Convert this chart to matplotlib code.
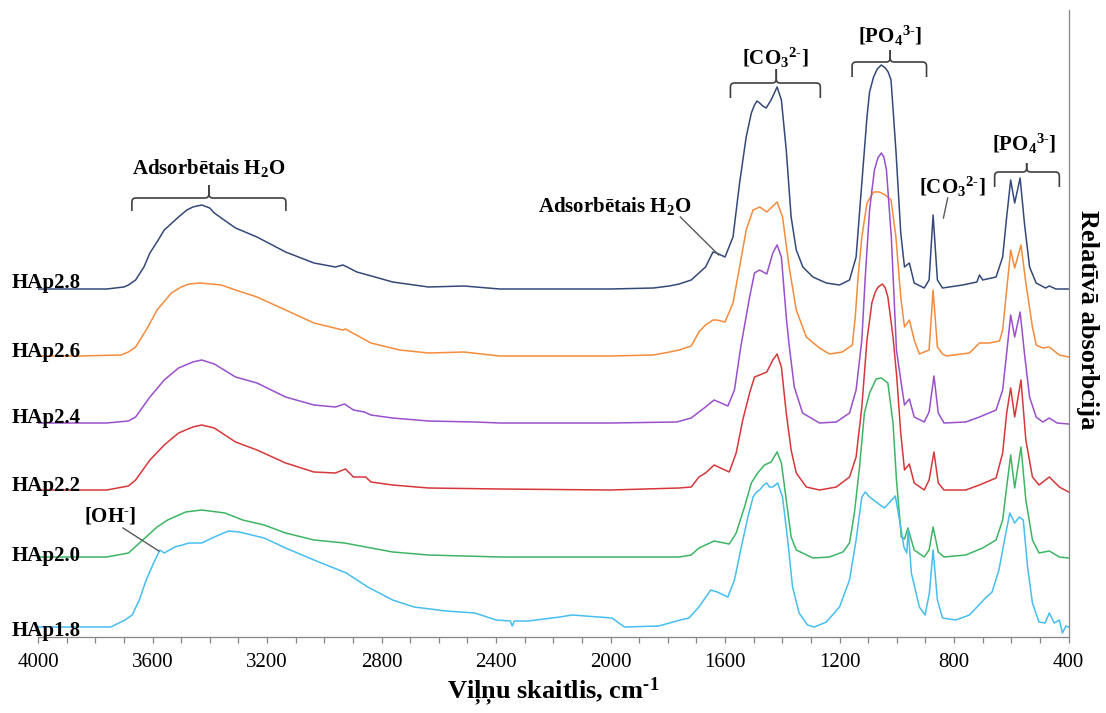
import matplotlib
matplotlib.use("Agg")
import matplotlib.pyplot as plt
import matplotlib.transforms as mtransforms
from matplotlib.path import Path
from matplotlib.patches import PathPatch
from matplotlib.ticker import MultipleLocator

plt.rcParams["font.family"] = ["Liberation Serif", "DejaVu Serif"]
plt.rcParams["mathtext.fontset"] = "custom"
plt.rcParams["mathtext.rm"] = "Liberation Serif:bold"
plt.rcParams["mathtext.it"] = "Liberation Serif:bold"
plt.rcParams["mathtext.bf"] = "Liberation Serif:bold"

# sample names, top to bottom
samples = ["HAp2.8", "HAp2.6", "HAp2.4", "HAp2.2", "HAp2.0", "HAp1.8"]
colors = ["#34497A", "#F58B3C", "#9A4FCB", "#D7373A", "#3DB564", "#45BEF0"]

# stacked spectra: (wavenumber cm-1, relative absorbance)
hap28 = [(4000, 348), (3850, 348), (3760, 348), (3700, 350), (3684, 352), (3659, 357),
         (3630, 370), (3609, 384), (3580, 397), (3559, 407), (3509, 420), (3480, 427),
         (3459, 430), (3428, 432), (3400, 429), (3384, 424), (3340, 415), (3310, 409),
         (3235, 400), (3135, 385), (3036, 374), (2961, 370), (2935, 372), (2920, 370),
         (2886, 365), (2848, 362), (2761, 355), (2636, 350), (2512, 351), (2387, 348),
         (2200, 348), (2000, 348), (1850, 349), (1795, 351), (1760, 353), (1718, 357),
         (1668, 370), (1642, 385), (1629, 384), (1600, 380), (1572, 400), (1549, 454),
         (1526, 500), (1508, 524), (1497, 532), (1488, 536), (1479, 534), (1468, 531),
         (1456, 529), (1439, 537), (1418, 550), (1403, 537), (1386, 487), (1369, 420),
         (1351, 387), (1328, 370), (1293, 360), (1246, 354), (1200, 352), (1165, 357),
         (1142, 380), (1122, 454), (1104, 520), (1095, 545), (1081, 560), (1068, 568),
         (1054, 572), (1040, 569), (1030, 565), (1020, 557), (1003, 487), (986, 404),
         (973, 370), (956, 374), (939, 354), (904, 349), (887, 357), (873, 422),
         (858, 357), (840, 349), (770, 352), (720, 355), (711, 362), (700, 357),
         (653, 360), (630, 380), (616, 420), (602, 457), (588, 434), (569, 459),
         (554, 414), (536, 370), (513, 354), (480, 349), (467, 351), (444, 348),
         (400, 348)]

hap26 = [(4000, 281), (3858, 281), (3710, 282), (3684, 285), (3659, 290), (3620, 308),
         (3584, 327), (3534, 344), (3500, 350), (3472, 353), (3434, 354), (3360, 352),
         (3310, 347), (3235, 340), (3135, 327), (3036, 314), (2935, 307), (2926, 308),
         (2837, 294), (2736, 287), (2636, 284), (2512, 285), (2387, 281), (2000, 281),
         (1850, 282), (1793, 285), (1760, 287), (1718, 291), (1691, 305), (1668, 312),
         (1642, 317), (1629, 317), (1600, 315), (1572, 334), (1549, 370), (1526, 407),
         (1502, 427), (1479, 430), (1454, 425), (1418, 435), (1399, 420), (1376, 370),
         (1351, 327), (1316, 300), (1270, 289), (1235, 283), (1190, 285), (1155, 292),
         (1145, 320), (1135, 360), (1122, 400), (1104, 434), (1081, 445), (1060, 445),
         (1040, 442), (1020, 437), (1003, 400), (986, 340), (973, 310), (956, 317),
         (939, 297), (921, 283), (887, 287), (873, 347), (858, 290), (840, 283),
         (827, 281), (746, 284), (711, 294), (676, 294), (641, 296), (630, 307),
         (616, 347), (602, 387), (588, 369), (566, 392), (549, 354), (526, 310),
         (513, 292), (490, 289), (467, 290), (432, 282), (400, 280)]

hap24 = [(4000, 214), (3760, 214), (3684, 216), (3659, 220), (3609, 240), (3559, 257),
         (3509, 269), (3459, 275), (3428, 277), (3384, 273), (3310, 260), (3235, 254),
         (3135, 240), (3036, 232), (2961, 230), (2929, 233), (2898, 227), (2860, 225),
         (2837, 222), (2761, 219), (2636, 216), (2474, 215), (2387, 214), (2000, 214),
         (1769, 215), (1718, 219), (1691, 225), (1668, 230), (1638, 237), (1590, 231),
         (1567, 247), (1545, 290), (1514, 340), (1497, 364), (1479, 367), (1454, 363),
         (1433, 384), (1418, 392), (1403, 380), (1386, 320), (1376, 292), (1358, 250),
         (1329, 224), (1270, 214), (1211, 215), (1165, 224), (1142, 247), (1122, 297),
         (1110, 360), (1095, 427), (1078, 467), (1066, 479), (1054, 484), (1045, 480),
         (1036, 467), (1019, 400), (1001, 287), (986, 257), (973, 232), (956, 238),
         (939, 220), (904, 215), (887, 225), (870, 261), (855, 224), (835, 214),
         (759, 215), (711, 220), (653, 227), (630, 247), (616, 284), (602, 322),
         (588, 300), (569, 325), (554, 284), (536, 240), (513, 220), (490, 215),
         (467, 219), (440, 214), (400, 213)]

hap22 = [(4000, 147), (3760, 147), (3684, 151), (3659, 157), (3609, 177), (3559, 192),
         (3509, 204), (3459, 210), (3428, 212), (3384, 209), (3310, 195), (3235, 187),
         (3135, 174), (3036, 165), (2961, 164), (2926, 168), (2898, 160), (2855, 160),
         (2837, 155), (2761, 152), (2636, 149), (2387, 148), (2000, 147), (1760, 149),
         (1718, 150), (1691, 160), (1668, 164), (1638, 172), (1585, 165), (1561, 184),
         (1538, 217), (1514, 244), (1497, 260), (1479, 262), (1454, 265), (1433, 277),
         (1418, 283), (1403, 270), (1386, 224), (1369, 187), (1351, 164), (1316, 150),
         (1270, 147), (1211, 150), (1165, 160), (1142, 180), (1122, 230), (1104, 297),
         (1087, 334), (1075, 345), (1065, 350), (1050, 353), (1040, 349), (1031, 340),
         (1013, 300), (1000, 260), (986, 204), (973, 167), (956, 173), (939, 154),
         (904, 147), (887, 157), (870, 185), (855, 154), (835, 147), (759, 147),
         (711, 152), (653, 159), (630, 184), (616, 224), (602, 249), (588, 220),
         (566, 257), (549, 197), (526, 160), (503, 152), (467, 160), (432, 150),
         (400, 145)]

hap20 = [(4000, 80), (3760, 80), (3684, 84), (3634, 97), (3584, 110), (3547, 117),
         (3484, 125), (3428, 127), (3347, 124), (3285, 117), (3210, 112), (3135, 104),
         (3036, 97), (2929, 94), (2837, 89), (2761, 85), (2636, 82), (2387, 80),
         (2000, 80), (1760, 80), (1718, 82), (1691, 89), (1668, 92), (1638, 96),
         (1585, 93), (1561, 104), (1532, 130), (1508, 154), (1486, 164), (1462, 172),
         (1439, 175), (1418, 185), (1403, 174), (1386, 137), (1369, 100), (1351, 87),
         (1293, 79), (1235, 80), (1188, 85), (1165, 94), (1148, 124), (1130, 170),
         (1113, 224), (1095, 244), (1072, 258), (1054, 259), (1031, 254), (1013, 214),
         (1001, 157), (984, 100), (973, 98), (961, 109), (939, 87), (904, 80),
         (887, 87), (873, 110), (855, 85), (835, 80), (759, 82), (700, 89),
         (653, 97), (630, 117), (616, 150), (602, 182), (588, 149), (566, 190),
         (549, 137), (526, 97), (503, 84), (467, 86), (432, 80), (400, 79)]

hap18 = [(4000, 10), (3822, 10), (3746, 10), (3696, 17), (3671, 22), (3646, 37),
         (3622, 57), (3596, 74), (3574, 87), (3559, 84), (3522, 90), (3472, 94),
         (3428, 94), (3384, 100), (3335, 106), (3297, 105), (3210, 99), (3135, 89),
         (3036, 77), (2923, 64), (2848, 50), (2761, 37), (2686, 30), (2574, 26),
         (2474, 24), (2399, 17), (2350, 16), (2343, 11), (2336, 16), (2287, 16),
         (2177, 20), (2134, 22), (1995, 19), (1951, 10), (1832, 11), (1756, 17),
         (1726, 19), (1691, 30), (1650, 47), (1627, 45), (1590, 40), (1567, 57),
         (1543, 90), (1520, 120), (1502, 140), (1490, 145), (1479, 147), (1465, 152),
         (1454, 154), (1445, 150), (1433, 150), (1416, 154), (1399, 140), (1381, 97),
         (1364, 50), (1341, 24), (1312, 12), (1288, 10), (1246, 15), (1200, 30),
         (1165, 57), (1142, 97), (1122, 140), (1110, 145), (1095, 140), (1058, 132),
         (1043, 129), (1005, 141), (986, 110), (975, 90), (965, 84), (960, 107),
         (949, 64), (921, 30), (901, 22), (886, 44), (873, 87), (858, 37),
         (840, 19), (794, 17), (746, 22), (690, 39), (667, 45), (643, 67),
         (619, 104), (605, 124), (588, 114), (572, 120), (558, 117), (543, 70),
         (526, 34), (503, 15), (482, 14), (467, 24), (450, 14), (432, 17),
         (421, 4), (409, 11), (400, 10)]

spectra = [hap28, hap26, hap24, hap22, hap20, hap18]

# where each sample name sits (text baseline, same units as the spectra)
label_y = [349, 280, 214, 146, 76, 1]

fig = plt.figure(figsize=(11.06, 7.13), dpi=100)
ax = fig.add_axes([38 / 1106, 76 / 713, 1030.5 / 1106, 627 / 713])

for spec, col in zip(spectra, colors):
    wn, ab = zip(*spec)
    ax.plot(wn, ab, color=col, lw=1.1)

ax.set_xlim(4000, 400)
ax.set_ylim(0, 627)
ax.xaxis.set_major_locator(MultipleLocator(400))
ax.xaxis.set_minor_locator(MultipleLocator(100))
ax.tick_params(axis="x", which="both", direction="out", length=4.5, width=0.9,
               color="#868686", labelsize=15, pad=7)
ax.set_yticks([])
for side in ("left", "top"):
    ax.spines[side].set_visible(False)
for side in ("bottom", "right"):
    ax.spines[side].set_color("#868686")
    ax.spines[side].set_linewidth(0.9)

# sample labels at the left edge
lbl_tr = mtransforms.blended_transform_factory(fig.transFigure, ax.transData)
for name, yl in zip(samples, label_y):
    ax.text(12 / 1106, yl, name, transform=lbl_tr, fontsize=15, fontweight="bold",
            ha="left", va="baseline", clip_on=False)


def half_bracket(xe, xc, y_line, y_end, y_tip, rx, ry):
    s = 1 if xc > xe else -1
    verts = [(xe, y_end), (xe, y_line - ry), (xe, y_line), (xe + s * rx, y_line),
             (xc - s * rx, y_line), (xc, y_line), (xc, y_line + ry), (xc, y_tip)]
    codes = [Path.MOVETO, Path.LINETO, Path.CURVE3, Path.CURVE3,
             Path.LINETO, Path.CURVE3, Path.CURVE3, Path.LINETO]
    ax.add_patch(PathPatch(Path(verts, codes), fill=False, ec="#3F3F3F", lw=1.2,
                           clip_on=False))


def bracket(x0, x1, xc, y_line, y_end, y_tip):
    half_bracket(x0, xc, y_line, y_end, y_tip, 14, 4)
    half_bracket(x1, xc, y_line, y_end, y_tip, 14, 4)


bracket(3672, 3134, 3403, 439, 426, 452)
bracket(1581, 1267, 1421, 554, 539, 568)
bracket(1156, 896, 1023, 575, 560, 587)
bracket(658, 432, 546, 465, 450, 474)

co3 = r"[CO$_3$$^{2\text{-}}$]"
po4 = r"[PO$_4$$^{3\text{-}}$]"
txt = dict(fontsize=15, fontweight="bold", ha="center", va="center")
ax.text(3403, 469, r"Adsorbētais H$_2$O", **txt)
ax.text(1423, 579, co3, **txt)
ax.text(1022, 601, po4, **txt)
ax.text(805, 450, co3, **txt)
ax.text(554, 493, po4, **txt)
ax.text(1985, 431, r"Adsorbētais H$_2$O", **txt)
ax.text(3749, 121, r"[OH$^{\text{-}}$]", **txt)

# leader lines
lead = dict(color="#595959", lw=1.0)
ax.plot([822, 837], [439, 419], **lead)
ax.plot([1756, 1622], [420, 382], **lead)
ax.plot([3703, 3578], [109, 86], **lead)

fig.text(553 / 1106, 1 - 692 / 713, r"Viļņu skaitlis, cm$^{\text{-1}}$", fontsize=19,
         fontweight="bold", ha="center", va="center")
fig.text(1088 / 1106, 1 - 320 / 713, "Relatīvā absorbcija", fontsize=19,
         fontweight="bold", ha="center", va="center", rotation=270)

fig.savefig("out.png", dpi=100)
